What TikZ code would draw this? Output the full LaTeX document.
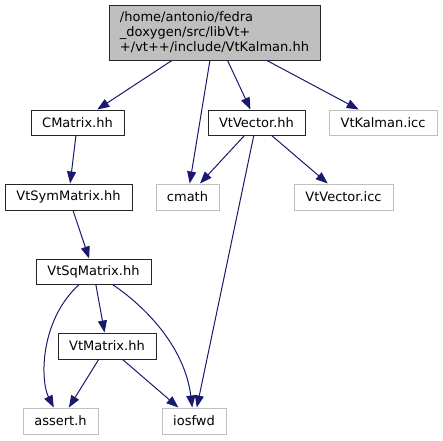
\documentclass[tikz,border=0pt]{standalone}
\usepackage{fontspec}
\setmainfont{DejaVu Sans}
\usetikzlibrary{arrows.meta}
\definecolor{edgeblue}{RGB}{25,25,112}
\definecolor{sysgray}{RGB}{191,191,191}
\definecolor{topfill}{RGB}{191,191,191}
\tikzset{
  hdr/.style={draw=black!85,line width=1pt,inner sep=0pt,font=\fontsize{13}{15}\selectfont},
  sys/.style={draw=sysgray,line width=1pt,inner sep=0pt,font=\fontsize{13}{15}\selectfont},
  inc/.style={draw=edgeblue,line width=1pt,-{Triangle[length=12pt,width=9pt]}},
}
\begin{document}
\begin{tikzpicture}[x=1pt,y=-1pt]
        \useasboundingbox (0,0) rectangle (443,440);
        % main file
        \node[hdr,fill=topfill,minimum width=211,minimum height=55,align=left] (kalman) at (214.5,32.5)
            {/home/antonio/fedra\\\_doxygen/src/libVt+\\+/vt++/include/VtKalman.hh};
        % headers
        \node[hdr,minimum width=93,minimum height=25] (cmatrix) at (77.5,122.5) {CMatrix.hh};
        \node[hdr,minimum width=97,minimum height=25] (vtvector) at (256.5,122.5) {VtVector.hh};
        \node[sys,minimum width=108,minimum height=25] (kalmanicc) at (383,122.5) {VtKalman.icc};
        \node[hdr,minimum width=127,minimum height=26] (symmatrix) at (68.5,197) {VtSymMatrix.hh};
        \node[sys,minimum width=63,minimum height=26] (cmath) at (187.5,197) {cmath};
        \node[sys,minimum width=99,minimum height=26] (vectoricc) at (343.5,197) {VtVector.icc};
        \node[hdr,minimum width=115,minimum height=25] (sqmatrix) at (93.5,271.5) {VtSqMatrix.hh};
        \node[hdr,minimum width=98,minimum height=26] (vtmatrix) at (107,346) {VtMatrix.hh};
        \node[sys,minimum width=75,minimum height=26] (asserth) at (60.5,421) {assert.h};
        \node[sys,minimum width=64,minimum height=26] (iosfwd) at (194,421) {iosfwd};

        % include edges
        \draw[inc] (kalman) -- (cmatrix);
        \draw[inc] (kalman) -- (cmath);
        \draw[inc] (kalman) -- (vtvector);
        \draw[inc] (kalman) -- (kalmanicc);
        \draw[inc] (cmatrix) -- (symmatrix);
        \draw[inc] (symmatrix) -- (sqmatrix);
        \draw[inc] (vtvector) -- (cmath);
        \draw[inc] (vtvector) -- (vectoricc);
        \draw[inc] (vtvector) -- (iosfwd);
        \draw[inc] (sqmatrix) .. controls (40,320) and (40,380) .. (asserth);
        \draw[inc] (sqmatrix) -- (vtmatrix);
        \draw[inc] (sqmatrix) .. controls (150,310) and (185,350) .. (iosfwd);
        \draw[inc] (vtmatrix) -- (asserth);
        \draw[inc] (vtmatrix) -- (iosfwd);
    \end{tikzpicture}
\end{document}
